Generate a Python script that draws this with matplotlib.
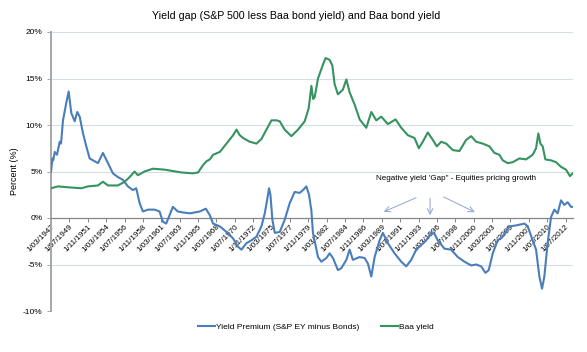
import matplotlib
matplotlib.use("Agg")
import matplotlib.pyplot as plt

# Yield premium (S&P earnings yield minus Baa), %
prem_years = [1947.17, 1947.35, 1947.45, 1947.64, 1947.93, 1948.27, 1948.44, 1948.69, 1949.11, 1949.41,
              1949.74, 1950.18, 1950.50, 1950.81, 1951.23, 1951.65, 1952.08, 1952.71, 1953.13, 1953.76,
              1954.40, 1955.03, 1955.67, 1956.30, 1956.93, 1957.57, 1957.99, 1958.42, 1958.84, 1959.47,
              1960.32, 1960.95, 1961.37, 1961.79, 1962.22, 1962.64, 1963.27, 1963.91, 1964.80, 1966.06,
              1966.83, 1967.33, 1967.75, 1968.60, 1969.45, 1970.29, 1970.92, 1971.35, 1971.99, 1972.62,
              1973.26, 1973.89, 1974.31, 1974.60, 1974.85, 1975.03, 1975.28, 1975.58, 1976.21, 1976.84,
              1977.48, 1978.11, 1978.75, 1979.16, 1979.59, 1979.93, 1980.23, 1980.43, 1981.07, 1981.50,
              1982.13, 1982.55, 1982.97, 1983.60, 1984.03, 1984.67, 1985.09, 1985.50, 1986.36, 1986.99,
              1987.41, 1987.84, 1988.26, 1988.89, 1989.31, 1989.94, 1990.79, 1991.64, 1992.28, 1992.91,
              1993.54, 1994.18, 1994.81, 1995.45, 1995.86, 1996.28, 1997.13, 1997.98, 1998.82, 1999.67,
              2000.52, 2001.15, 2001.79, 2002.33, 2002.75, 2003.26, 2003.89, 2004.53, 2005.38, 2006.22,
              2007.28, 2007.70, 2008.33, 2008.76, 2009.18, 2009.52, 2009.81, 2010.23, 2010.66, 2011.08,
              2011.50, 2011.93, 2012.35, 2012.77, 2013.20, 2013.40]
prem_values = [5.0, 6.4, 6.2, 7.1, 6.8, 8.2, 8.0, 10.5, 12.4, 13.6,
               11.3, 10.4, 11.4, 10.9, 9.1, 7.7, 6.4, 6.1, 5.9, 7.0,
               5.9, 4.8, 4.4, 4.1, 3.4, 3.0, 3.2, 1.6, 0.7, 0.9,
               0.9, 0.7, -0.4, -0.6, 0.3, 1.2, 0.7, 0.6, 0.5, 0.7,
               1.0, 0.3, -0.6, -0.9, -1.5, -2.2, -3.1, -3.4, -2.7, -2.4,
               -2.0, -0.9, 0.5, 1.9, 3.2, 2.5, -0.2, -1.6, -1.5, -0.2,
               1.6, 2.8, 2.7, 3.0, 3.4, 2.5, 0.8, -1.6, -4.2, -4.7,
               -4.3, -3.8, -4.3, -5.6, -5.4, -4.5, -3.4, -4.5, -4.2, -4.3,
               -4.9, -6.3, -4.2, -2.4, -1.6, -2.7, -3.8, -4.7, -5.2, -4.5,
               -3.4, -2.9, -2.4, -1.6, -1.7, -2.4, -3.3, -3.4, -4.2, -4.7,
               -5.1, -5.0, -5.2, -5.9, -5.6, -3.8, -2.4, -2.0, -0.9, -0.8,
               -0.6, -0.9, -2.4, -3.4, -6.3, -7.6, -6.3, -2.7, 0.1, 0.9,
               0.5, 1.9, 1.4, 1.7, 1.2, 1.2]

# Baa bond yield, %
baa_years = [1947.17, 1948.06, 1949.33, 1951.01, 1951.86, 1953.13, 1953.76, 1954.40, 1955.67, 1956.52,
             1957.15, 1957.78, 1958.20, 1959.05, 1960.10, 1961.59, 1963.69, 1965.18, 1965.85, 1966.48,
             1966.91, 1967.33, 1967.75, 1968.60, 1969.45, 1970.29, 1970.72, 1971.14, 1971.56, 1972.40,
             1973.26, 1973.89, 1974.52, 1975.16, 1975.79, 1976.21, 1976.84, 1977.69, 1978.53, 1979.38,
             1979.89, 1980.23, 1980.45, 1980.65, 1981.07, 1981.70, 1982.04, 1982.55, 1982.89, 1983.18,
             1983.60, 1984.23, 1984.67, 1985.09, 1985.72, 1986.36, 1987.20, 1987.84, 1988.47, 1989.10,
             1989.94, 1990.92, 1991.64, 1992.48, 1993.33, 1993.87, 1994.38, 1995.01, 1995.65, 1996.16,
             1996.71, 1997.35, 1998.19, 1999.03, 1999.88, 2000.52, 2001.15, 2001.99, 2002.84, 2003.47,
             2004.10, 2004.53, 2005.16, 2005.80, 2006.64, 2007.49, 2008.33, 2008.76, 2009.05, 2009.31,
             2009.60, 2009.94, 2010.66, 2011.29, 2011.93, 2012.56, 2013.07, 2013.40]
baa_values = [3.2, 3.4, 3.3, 3.2, 3.4, 3.5, 3.9, 3.5, 3.5, 3.9,
              4.4, 5.0, 4.6, 5.0, 5.3, 5.2, 4.9, 4.8, 4.9, 5.7,
              6.1, 6.3, 6.8, 7.1, 8.0, 8.9, 9.5, 8.9, 8.6, 8.2,
              8.0, 8.5, 9.5, 10.5, 10.5, 10.4, 9.5, 8.8, 9.5, 10.4,
              11.8, 14.2, 12.8, 13.0, 15.0, 16.5, 17.2, 17.0, 16.4, 14.4,
              13.3, 13.8, 14.9, 13.5, 12.2, 10.6, 9.7, 11.4, 10.5, 10.9,
              10.1, 10.6, 9.7, 8.9, 8.6, 7.5, 8.2, 9.2, 8.4, 7.7,
              8.2, 8.0, 7.3, 7.2, 8.4, 8.8, 8.2, 8.0, 7.7, 7.0,
              6.8, 6.2, 5.9, 6.0, 6.4, 6.3, 6.8, 7.5, 9.1, 8.0,
              7.7, 6.3, 6.2, 6.0, 5.5, 5.2, 4.5, 4.8]

tick_labels = ["1/03/1947", "1/07/1949", "1/11/1951", "1/03/1954", "1/07/1956", "1/11/1958",
               "1/03/1961", "1/07/1963", "1/11/1965", "1/03/1968", "1/07/1970", "1/11/1972",
               "1/03/1975", "1/07/1977", "1/11/1979", "1/03/1982", "1/07/1984", "1/11/1986",
               "1/03/1989", "1/07/1991", "1/11/1993", "1/03/1996", "1/07/1998", "1/11/2000",
               "1/03/2003", "1/07/2005", "1/11/2007", "1/03/2010", "1/07/2012"]
y_ticks = [-10, -5, 0, 5, 10, 15, 20]

BLUE = "#4a7ebb"
GREEN = "#35935f"

plt.rcParams["font.family"] = ["Liberation Sans", "DejaVu Sans"]

fig = plt.figure(figsize=(5.87, 3.52), dpi=100)
ax = fig.add_axes([51 / 587, 1 - 311 / 352, 522 / 587, 279 / 352])

# spines first: moving a spine resets the tick formatting
ax.spines["bottom"].set_position(("data", 0))
ax.spines["bottom"].set_color("#868686")
ax.spines["bottom"].set_linewidth(0.9)
ax.spines["left"].set_color("#a6a6a6")
ax.spines["left"].set_linewidth(1.4)
ax.spines["top"].set_visible(False)
ax.spines["right"].set_visible(False)

# light gridlines at every 5%
for v in y_ticks:
    if v != 0:
        ax.axhline(v, color="#d5dde9", lw=0.8, zorder=0)

line_p, = ax.plot(prem_years, prem_values, color=BLUE, lw=1.5, zorder=3)
line_b, = ax.plot(baa_years, baa_values, color=GREEN, lw=1.5, zorder=3)

ax.set_xlim(1947.17, 2013.45)
ax.set_ylim(-10, 20)

tick_pos = []
for s in tick_labels:
    d, m, y = s.split("/")
    tick_pos.append(int(y) + (int(m) - 1) / 12)
ax.set_xticks(tick_pos)
ax.set_xticklabels(tick_labels, rotation=45, ha="right", rotation_mode="anchor", fontsize=5.8)
ax.tick_params(axis="x", direction="out", length=3, width=0.7, color="#868686", pad=1)

ax.set_yticks(y_ticks)
ax.set_yticklabels([f"{v}%" for v in y_ticks], fontsize=6)
ax.tick_params(axis="y", direction="out", length=3, width=0.7, color="#a6a6a6", pad=3)

ax.set_ylabel("Percent (%)", fontsize=6.5, labelpad=3)

fig.text(296 / 587, 1 - 16 / 352, "Yield gap (S&P 500 less Baa bond yield) and Baa bond yield",
         ha="center", va="center", fontsize=7.7)

# annotation with three arrows
ax.text(1998.65, 4.2, "Negative yield 'Gap\" - Equities pricing growth",
        ha="center", va="center", fontsize=5.8)
arrow = dict(arrowstyle="->", color="#8ea6cc", lw=0.7)
ax.annotate("", xy=(1989.1, 0.55), xytext=(1993.85, 2.3), arrowprops=arrow)
ax.annotate("", xy=(1995.3, 0.0), xytext=(1995.3, 2.4), arrowprops=arrow)
ax.annotate("", xy=(2001.3, 0.5), xytext=(1996.7, 2.4), arrowprops=arrow)

fig.legend([line_p, line_b], ["Yield Premium (S&P EY minus Bonds)", "Baa yield"],
           loc="center", bbox_to_anchor=(316 / 587, 1 - 327 / 352), ncol=2, frameon=False,
           fontsize=6, handlelength=2.0, handletextpad=0.2, columnspacing=2.6)

fig.savefig("out.png", dpi=100)
